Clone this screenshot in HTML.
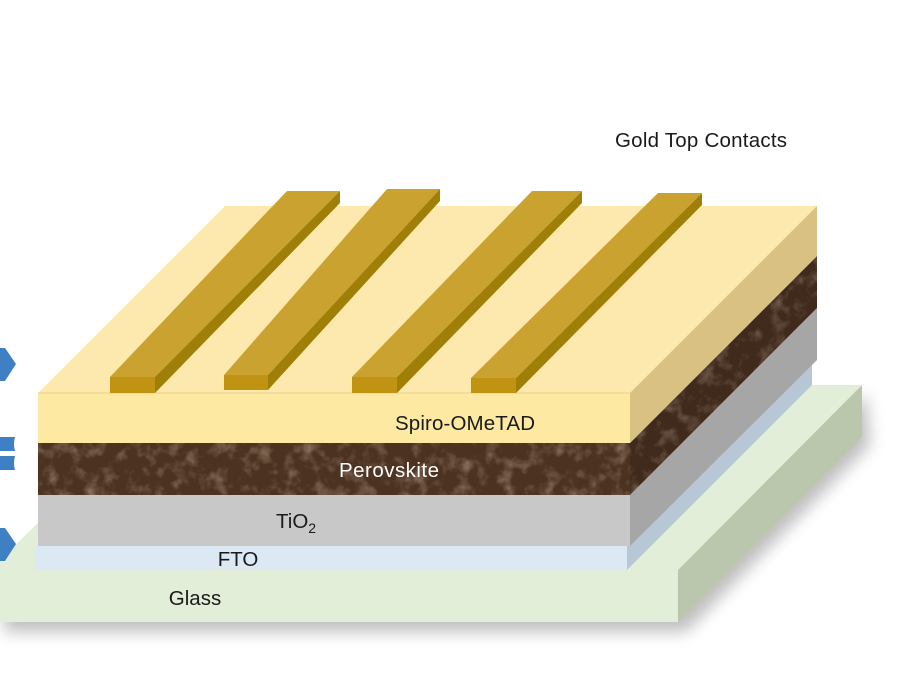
<!DOCTYPE html>
<html><head><meta charset="utf-8"><style>
html,body{margin:0;padding:0;background:#fff;}
svg{display:block;}
text{font-family:"Liberation Sans",sans-serif;}
</style></head><body>
<svg width="900" height="700" viewBox="0 0 900 700" xmlns="http://www.w3.org/2000/svg">
<defs>
<filter id="sh" x="-10%" y="-10%" width="130%" height="140%"><feGaussianBlur stdDeviation="8"/></filter>
<filter id="tex" x="0" y="0" width="100%" height="100%">
<feTurbulence type="fractalNoise" baseFrequency="0.07" numOctaves="3" seed="4"/>
<feColorMatrix type="matrix" values="0 0 0 0 0.55  0 0 0 0 0.42  0 0 0 0 0.32  0 0 0 1.6 -0.75"/>
</filter>
<clipPath id="pside"><polygon points="630,443 817,256 817,308 630,495"/></clipPath>
<clipPath id="pfront"><rect x="38" y="443" width="592" height="52"/></clipPath>
</defs>
<!-- glass shadow -->
<polygon points="4,578 682,578 866,393 870,445 686,632 4,632" fill="#000" opacity="0.25" filter="url(#sh)"/>
<!-- glass -->
<polygon points="0,570 678,570 862,385 178,385 0,560" fill="#e3eed8"/>
<polygon points="678,570 862,385 862,437 678,622" fill="#bac7ac"/>
<rect x="0" y="570" width="678" height="52" fill="#e3eed8"/>
<!-- FTO -->
<polygon points="627,546 812,360 812,385 627,570" fill="#b8c7d6"/>
<rect x="35" y="546" width="592" height="24" fill="#dce8f3"/>
<!-- TiO2 -->
<polygon points="630,495 817,308 817,360 630,546" fill="#a6a6a6"/>
<rect x="38" y="495" width="592" height="51" fill="#c8c8c8"/>
<!-- Perovskite -->
<polygon points="630,443 817,256 817,308 630,495" fill="#3f2a1c"/>
<g clip-path="url(#pside)"><rect x="630" y="256" width="187" height="239" fill="#fff" filter="url(#tex)" opacity="0.6"/></g>
<rect x="38" y="443" width="592" height="52" fill="#4c3220"/>
<g clip-path="url(#pfront)"><rect x="38" y="443" width="592" height="52" fill="#fff" filter="url(#tex)" opacity="0.7"/></g>
<!-- Spiro -->
<polygon points="38,393 630,393 817,206 225,206" fill="#fde9ad"/>
<polygon points="630,393 817,206 817,256 630,443" fill="#d8c183"/>
<rect x="38" y="393" width="592" height="50" fill="#fde9a2"/>
<line x1="38" y1="393" x2="630" y2="393" stroke="#e8d08c" stroke-width="1"/>
<!-- gold bars -->
<g>
<polygon points="110,377 287,191 340,191 155,377" fill="#c9a22f"/>
<polygon points="155,377 340,191 340,203 155,393" fill="#a07f08"/>
<rect x="110" y="377" width="45" height="16" fill="#c09412"/>

<polygon points="224,375 387,189 440,189 268,375" fill="#c9a22f"/>
<polygon points="268,375 440,189 440,201 268,390" fill="#a07f08"/>
<rect x="224" y="375" width="44" height="15" fill="#c09412"/>

<polygon points="352,377 532,191 582,191 397,377" fill="#c9a22f"/>
<polygon points="397,377 582,191 582,203 397,393" fill="#a07f08"/>
<rect x="352" y="377" width="45" height="16" fill="#c09412"/>

<polygon points="471,378 658,193 702,193 516,378" fill="#c9a22f"/>
<polygon points="516,378 702,193 702,205 516,393" fill="#a07f08"/>
<rect x="471" y="378" width="45" height="15" fill="#c09412"/>
</g>
<!-- blue arrows -->
<polygon points="0,348 5,348 16,364 5,381 0,381" fill="#3f7fc4"/>
<path d="M0,437 L15,437 Q13,444 15,451 L0,451 Z" fill="#3f7fc4"/>
<path d="M0,456 L15,456 Q13,463 15,470 L0,470 Z" fill="#3f7fc4"/>
<polygon points="0,528 5,528 16,544 5,561 0,561" fill="#3f7fc4"/>
<!-- labels -->
<text x="615" y="147" font-size="20.5" fill="#1a1a1a" textLength="172">Gold Top Contacts</text>
<text x="395" y="430" font-size="20.5" fill="#1a1a1a" textLength="140">Spiro-OMeTAD</text>
<text x="339" y="477" font-size="20.5" fill="#fff" textLength="100">Perovskite</text>
<text x="276" y="528" font-size="20.5" fill="#1a1a1a">TiO<tspan font-size="14" dy="5">2</tspan></text>
<text x="238" y="566" font-size="20.5" fill="#1a1a1a" text-anchor="middle">FTO</text>
<text x="195" y="605" font-size="20.5" fill="#1a1a1a" text-anchor="middle">Glass</text>
</svg>
</body></html>
